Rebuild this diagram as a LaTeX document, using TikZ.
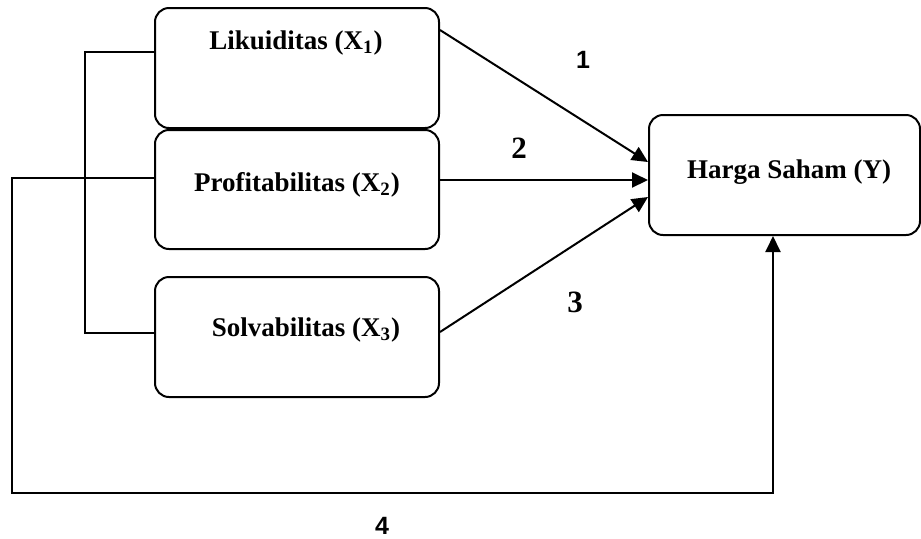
\documentclass[tikz,border=0pt]{standalone}
\usepackage{fontspec}
\setmainfont{Liberation Serif}
\newfontfamily\sansnum{Liberation Sans}
\usetikzlibrary{arrows.meta,calc}
\begin{document}
\begin{tikzpicture}[x=0.5pt,y=-0.5pt,
  box/.style={draw, line width=1pt, rounded corners=7pt, inner sep=0pt},
  lbl/.style={font=\fontsize{13.5}{16}\selectfont\bfseries, inner sep=0pt},
  conn/.style={line width=0.8pt},
  arr/.style={line width=1pt, -{Triangle[length=8pt,width=7.5pt]}},
  numsans/.style={font=\sansnum\fontsize{12.5}{15}\selectfont\bfseries, inner sep=0pt},
  numserif/.style={font=\fontsize{15.5}{18}\selectfont\bfseries, inner sep=0pt}]
\useasboundingbox (0,0) rectangle (921,538);

% boxes
\node[box, minimum width=142pt, minimum height=60pt] (lik) at (297,68) {};
\node[box, minimum width=142pt, minimum height=59.5pt] (pro) at (297,189.5) {};
\node[box, minimum width=142pt, minimum height=60pt] (sol) at (297,337) {};
\node[box, minimum width=135.5pt, minimum height=60pt] (hs) at (784.5,175) {};

% box texts
\node[lbl] (tlik) at (296,43) {Likuiditas (X\textsubscript{1})};
\node[lbl] (tpro) at (297,185) {Profitabilitas (X\textsubscript{2})};
\node[lbl] (tsol) at (306,330) {Solvabilitas (X\textsubscript{3})};
\node[lbl] (ths) at (789,172) {Harga Saham (Y)};

% helper coordinates
\coordinate (b1) at (85,52);
\coordinate (b2) at (85,333);
\coordinate (c1) at (12,178);
\coordinate (c2) at (12,493);
\coordinate (c3) at (773,493);
\coordinate (a1) at (440,30);
\coordinate (a3) at (440,332);
\coordinate (t1) at (649,162);
\coordinate (t2) at (649,180);
\coordinate (t3) at (649,197);

% bracket joining X1 and X3
\draw[conn] (lik.west |- b1) -- (b1) -- (b2) -- (sol.west |- b2);

% loop from X2 to Y
\draw[arr] (pro.west |- c1) -- (c1) -- (c2) -- (c3) -- (c3 |- hs.south);

% direct arrows
\draw[arr] (lik.east |- a1) -- (hs.west |- t1);
\draw[arr] (pro.east |- t2) -- (hs.west |- t2);
\draw[arr] (sol.east |- a3) -- (hs.west |- t3);

% numbers
\node[numsans] (n1) at (583,60) {1};
\node[numserif] (n2) at (519,148) {2};
\node[numserif] (n3) at (575,302) {3};
\node[numsans] (n4) at (382,526) {4};
\end{tikzpicture}
\end{document}
